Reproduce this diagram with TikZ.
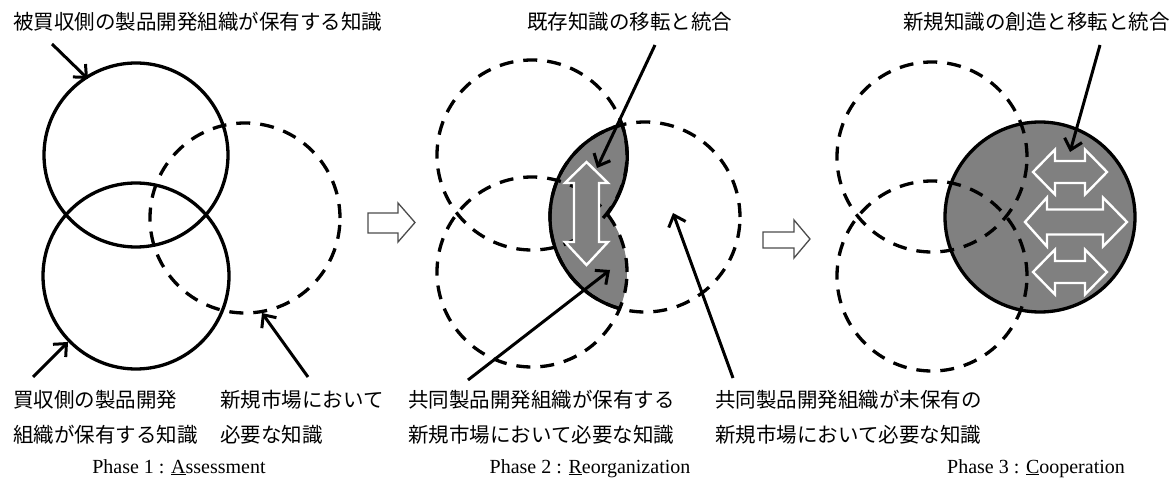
\documentclass[tikz,border=0pt]{standalone}
\usepackage{fontspec}
\setmainfont{Liberation Serif}
\newfontfamily\jp{Noto Sans CJK JP}
\usetikzlibrary{arrows.meta}
\definecolor{knowgray}{HTML}{808080}
\begin{document}
\begin{tikzpicture}[x=1pt,y=-1pt,
  jtext/.style={font=\jp\fontsize{20.5}{24}\selectfont, inner sep=0pt, anchor=base west},
  ptext/.style={font=\fontsize{20}{24}\selectfont, inner sep=0pt, anchor=base},
  solidc/.style={circle, draw, line width=3.3pt, inner sep=0pt, outer sep=0pt},
  dashc/.style={circle, draw, line width=3.3pt, dash pattern=on 14pt off 10pt, inner sep=0pt, outer sep=0pt},
  ptr/.style={line width=3pt, -{Straight Barb[length=10pt,width=18pt]}},
  phasearrow/.style={draw=gray!60!black, line width=1.3pt, fill=white},
  warrow/.style={draw=white, line width=2.4pt, fill=knowgray},
  edge2/.style={line width=3.3pt},
]
\useasboundingbox (0,0) rectangle (1171,481);

% ---------------- Phase 1 ----------------
\node[solidc, minimum size=184pt] (c1t) at (136,155) {};
\node[solidc, minimum size=186pt] (c1b) at (136,276) {};
\node[dashc, minimum size=190pt] (c1r) at (245,218) {};

\node[jtext] (l1a) at (13,30) {被買収側の製品開発組織が保有する知識};
\node[jtext] (l1b1) at (13,407) {買収側の製品開発};
\node[jtext] (l1b2) at (13,442) {組織が保有する知識};
\node[jtext] (l1c1) at (220,407) {新規市場において};
\node[jtext] (l1c2) at (220,442) {必要な知識};

\coordinate (p1as) at (52,44);  \coordinate (p1ae) at (88,79);
\coordinate (p1bs) at (33,377); \coordinate (p1be) at (68,342);
\coordinate (p1cs) at (308,377); \coordinate (p1ce) at (262,313);
\draw[ptr] (p1as) -- (p1ae);
\draw[ptr] (p1bs) -- (p1be);
\draw[ptr] (p1cs) -- (p1ce);

\node[ptext] (ph1) at (179,473) {Phase 1 : \underline{A}ssessment};

% phase arrow 1
\draw[phasearrow] (368,213) -- (398,213) -- (398,203) -- (415,222.5) -- (398,242) -- (398,233) -- (368,233) -- cycle;

% ---------------- Phase 2 ----------------
\coordinate (t2c) at (532,155);
\coordinate (b2c) at (532,272);
\coordinate (r2c) at (645,217);
\begin{scope}
  \clip (r2c) circle[radius=95pt];
  \fill[knowgray] (t2c) circle[radius=95pt] (b2c) circle[radius=95pt];
\end{scope}
\node[dashc, minimum size=190pt] (t2) at (t2c) {};
\node[dashc, minimum size=190pt] (b2) at (b2c) {};
\node[dashc, minimum size=190pt] (r2) at (r2c) {};
% white double arrow
\draw[warrow] (586.5,162) -- (608,183) -- (599,183) -- (599,242) -- (608,242) -- (586.5,265) -- (565,242) -- (574,242) -- (574,183) -- (565,183) -- cycle;
% solid outline of the shared region
\draw[edge2] (r2.104) arc[start angle=104, end angle=254.6, radius=95pt];
\draw[edge2] (t2.18.5) arc[start angle=18.5, end angle=-38, radius=95pt];

\node[jtext] (l2a) at (527,30) {既存知識の移転と統合};
\node[jtext] (l2b1) at (408,407) {共同製品開発組織が保有する};
\node[jtext] (l2b2) at (408,442) {新規市場において必要な知識};
\node[jtext] (l2c1) at (715,407) {共同製品開発組織が未保有の};
\node[jtext] (l2c2) at (715,442) {新規市場において必要な知識};

\coordinate (p2as) at (655,45);  \coordinate (p2ae) at (597,168);
\coordinate (p2bs) at (468,380); \coordinate (p2be) at (610,270);
\coordinate (p2cs) at (733,378); \coordinate (p2ce) at (673,213);
\draw[ptr] (p2as) -- (p2ae);
\draw[ptr] (p2bs) -- (p2be);
\draw[ptr] (p2cs) -- (p2ce);

\node[ptext] (ph2) at (590,473) {Phase 2 : \underline{R}eorganization};

% phase arrow 2
\draw[phasearrow] (763,232) -- (794,232) -- (794,220) -- (810,239) -- (794,258) -- (794,248) -- (763,248) -- cycle;

% ---------------- Phase 3 ----------------
\node[circle, fill=knowgray, minimum size=190pt, inner sep=0pt, outer sep=0pt] (g3) at (1040,217) {};
\node[dashc, minimum size=190pt] (t3) at (932,157) {};
\node[dashc, minimum size=190pt] (b3) at (932,276) {};
\draw[edge2] (g3.center) circle[radius=95pt];

\draw[warrow] (1033,172) -- (1055,149.5) -- (1055,161) -- (1085,161) -- (1085,149.5) -- (1107,172) -- (1085,194.5) -- (1085,183) -- (1055,183) -- (1055,194.5) -- cycle;
\draw[warrow] (1025,222) -- (1047,197.5) -- (1047,209.5) -- (1103,209.5) -- (1103,197.5) -- (1127,222) -- (1103,246.5) -- (1103,234.5) -- (1047,234.5) -- (1047,246.5) -- cycle;
\draw[warrow] (1033,272) -- (1055,249.5) -- (1055,261) -- (1085,261) -- (1085,249.5) -- (1107,272) -- (1085,294.5) -- (1085,283) -- (1055,283) -- (1055,294.5) -- cycle;

\node[jtext] (l3a) at (903,30) {新規知識の創造と移転と統合};
\coordinate (p3as) at (1100,45); \coordinate (p3ae) at (1070,152);
\draw[ptr] (p3as) -- (p3ae);

\node[ptext] (ph3) at (1036,473) {Phase 3 : \underline{C}ooperation};
\end{tikzpicture}
\end{document}
